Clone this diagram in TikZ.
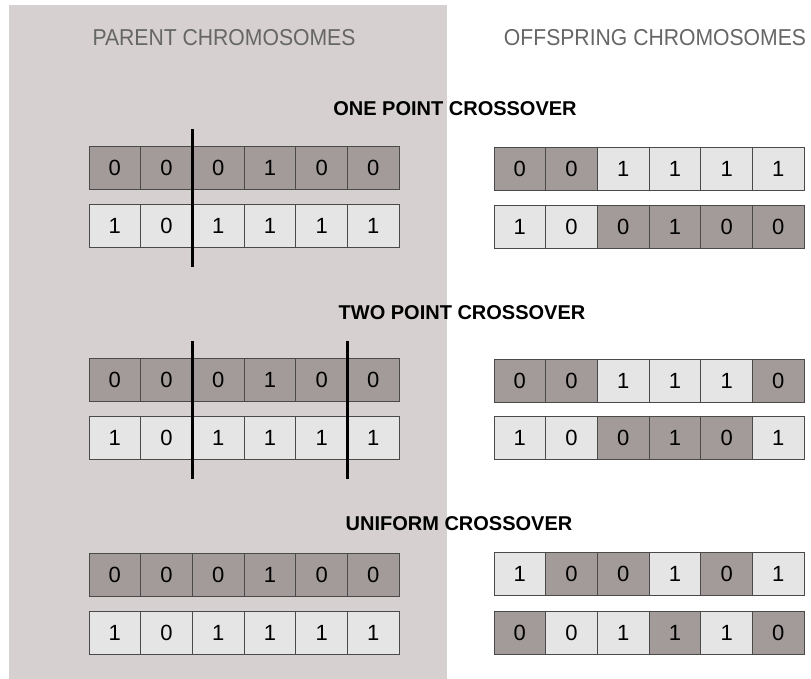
\documentclass[tikz,border=0pt]{standalone}
\usepackage{fontspec}
\setmainfont{Liberation Sans}
\newfontfamily\headfont[FakeStretch=0.92]{Liberation Sans}
\definecolor{panel}{HTML}{D6D0D0}
\definecolor{darkcell}{HTML}{A39A9A}
\definecolor{lightcell}{HTML}{E5E5E5}
\definecolor{cellline}{HTML}{4A4A4A}
\definecolor{headgray}{HTML}{666666}
\newcommand\chromrow[4]{%
  \foreach \cl/\v [count=\i] in {#4} {%
    \node[cell,\cl] (#1-\i) at ({#2+(\i-0.5)*51.7},{#3+21.5}) {\raisebox{-2.5pt}{\v}};
  }%
}
\begin{document}
\begin{tikzpicture}[x=1pt,y=-1pt,
  cell/.style={draw=cellline, line width=0.8pt, minimum width=51.7pt, minimum height=43pt,
    inner sep=0pt, font=\fontsize{22}{22}\selectfont},
  dk/.style={fill=darkcell},
  lt/.style={fill=lightcell},
  heading/.style={font=\headfont\fontsize{23}{23}\selectfont, text=headgray, inner sep=0pt},
  title/.style={font=\bfseries\fontsize{20}{20}\selectfont, text=black, inner sep=0pt},
  cut/.style={line width=3.5pt, black}]
\useasboundingbox (0,0) rectangle (811,679);
\fill[white] (0,0) rectangle (811,679);
\fill[panel] (9,5) rectangle (447,679);

\node[heading] (hp) at (224,38) {PARENT CHROMOSOMES};
\node[heading] (ho) at (655,38) {OFFSPRING CHROMOSOMES};

% one point
\node[title] (t1) at (455,108.5) {ONE POINT CROSSOVER};
\chromrow{a1}{89}{146}{dk/0,dk/0,dk/0,dk/1,dk/0,dk/0}
\chromrow{a2}{89}{204}{lt/1,lt/0,lt/1,lt/1,lt/1,lt/1}
\chromrow{a3}{494}{147}{dk/0,dk/0,lt/1,lt/1,lt/1,lt/1}
\chromrow{a4}{494}{205}{lt/1,lt/0,dk/0,dk/1,dk/0,dk/0}
\coordinate (c1top) at (192.5,129);
\coordinate (c1bot) at (192.5,267);
\draw[cut] (c1top) -- (c1bot);

% two point
\node[title] (t2) at (462,312.5) {TWO POINT CROSSOVER};
\chromrow{b1}{89}{358}{dk/0,dk/0,dk/0,dk/1,dk/0,dk/0}
\chromrow{b2}{89}{416.5}{lt/1,lt/0,lt/1,lt/1,lt/1,lt/1}
\chromrow{b3}{494}{359}{dk/0,dk/0,lt/1,lt/1,lt/1,dk/0}
\chromrow{b4}{494}{416.5}{lt/1,lt/0,dk/0,dk/1,dk/0,lt/1}
\coordinate (c2top) at (192.5,341);
\coordinate (c2bot) at (192.5,479);
\coordinate (c3top) at (347.5,341);
\coordinate (c3bot) at (347.5,479);
\draw[cut] (c2top) -- (c2bot);
\draw[cut] (c3top) -- (c3bot);

% uniform
\node[title] (t3) at (459,524) {UNIFORM CROSSOVER};
\chromrow{u1}{89}{553}{dk/0,dk/0,dk/0,dk/1,dk/0,dk/0}
\chromrow{u2}{89}{611}{lt/1,lt/0,lt/1,lt/1,lt/1,lt/1}
\chromrow{u3}{494}{552.5}{lt/1,dk/0,dk/0,lt/1,dk/0,lt/1}
\chromrow{u4}{494}{611}{dk/0,lt/0,lt/1,dk/1,lt/1,dk/0}
\end{tikzpicture}
\end{document}
